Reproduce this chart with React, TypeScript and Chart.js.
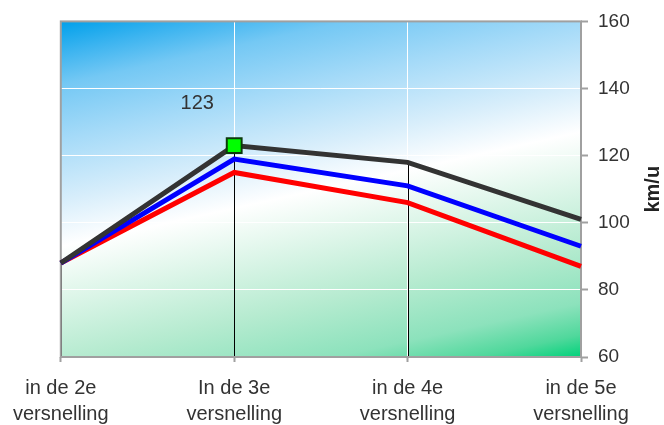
import React, { useEffect, useRef } from "react";
import { Chart, registerables } from "chart.js";

Chart.register(...registerables);

const categories: string[][] = [
  ["in de 2e", "versnelling"],
  ["In de 3e", "versnelling"],
  ["in de 4e", "versnelling"],
  ["in de 5e", "versnelling"],
];
const blackSeries = [88, 123, 118, 101];
const blueSeries = [88, 119, 111, 93];
const redSeries = [88, 115, 106, 87];
const yTicks = { min: 60, max: 160, step: 20 };
const axisTitle = "km/u";
const labelIndex = 1;

const FONT = "'Liberation Sans', Arial, sans-serif";
const TEXT = "#333333";

const bgPlugin = {
  id: "bg",
  beforeDraw(chart: any) {
    const { ctx, chartArea: a } = chart;
    const w = a.right - a.left;
    const h = a.bottom - a.top;
    let dx = 0.22, dy = 1;
    const n = Math.hypot(dx, dy);
    dx /= n; dy /= n;
    const half = (Math.abs(dx) * w + Math.abs(dy) * h) / 2;
    const cx = a.left + w / 2, cy = a.top + h / 2;
    const g = ctx.createLinearGradient(cx - dx * half, cy - dy * half, cx + dx * half, cy + dy * half);
    g.addColorStop(0, "#00a0ea");
    g.addColorStop(0.07, "#3cb4f0");
    g.addColorStop(0.14, "#74c8f4");
    g.addColorStop(0.26, "#a4daf8");
    g.addColorStop(0.4, "#d8eefb");
    g.addColorStop(0.5, "#ffffff");
    g.addColorStop(0.6, "#e2f7ec");
    g.addColorStop(0.75, "#b6ebd0");
    g.addColorStop(0.88, "#8ce2bc");
    g.addColorStop(0.95, "#50d89c");
    g.addColorStop(1, "#00d27a");
    ctx.save();
    ctx.fillStyle = g;
    ctx.fillRect(a.left, a.top, w, h);
    ctx.restore();
  },
  beforeDatasetsDraw(chart: any) {
    const { ctx, chartArea: a, scales } = chart;
    ctx.save();
    ctx.strokeStyle = "#000000";
    ctx.lineWidth = 1;
    for (let i = 0; i < categories.length; i++) {
      const v = Math.max(blackSeries[i], blueSeries[i], redSeries[i]);
      const x = Math.round(scales.x.getPixelForValue(i)) + 0.5;
      const y = scales.y.getPixelForValue(v);
      ctx.beginPath();
      ctx.moveTo(x, y);
      ctx.lineTo(x, a.bottom);
      ctx.stroke();
    }
    ctx.strokeStyle = "#a0a0a0";
    ctx.lineWidth = 2;
    ctx.strokeRect(a.left, a.top, a.right - a.left, a.bottom - a.top);
    ctx.restore();
  },
  afterDraw(chart: any) {
    const { ctx, scales } = chart;
    ctx.save();
    const px = scales.x.getPixelForValue(labelIndex);
    const py = scales.y.getPixelForValue(blackSeries[labelIndex]);
    ctx.font = `20px ${FONT}`;
    ctx.fillStyle = TEXT;
    ctx.textAlign = "center";
    ctx.textBaseline = "middle";
    ctx.fillText(String(blackSeries[labelIndex]), px - 37, py - 42);
    const a = chart.chartArea;
    ctx.translate(653, (a.top + a.bottom) / 2);
    ctx.rotate(-Math.PI / 2);
    ctx.font = `bold 20px ${FONT}`;
    ctx.fillStyle = "#222222";
    ctx.fillText(axisTitle, 0, 0);
    ctx.restore();
  },
};

export default function App() {
  const ref = useRef<HTMLCanvasElement | null>(null);
  useEffect(() => {
    document.body.style.margin = "0";
    document.body.style.overflow = "hidden";
    const chart = new Chart(ref.current as HTMLCanvasElement, {
      type: "line",
      data: {
        labels: categories,
        datasets: [
          {
            data: redSeries,
            borderColor: "#ff0000",
            borderWidth: 5,
            pointRadius: 0,
            tension: 0,
            order: 3,
          },
          {
            data: blueSeries,
            borderColor: "#0000ff",
            borderWidth: 5,
            pointRadius: 0,
            tension: 0,
            order: 2,
          },
          {
            data: blackSeries,
            borderColor: "#333333",
            borderWidth: 5,
            pointRadius: blackSeries.map((_, i) => (i === labelIndex ? 10.5 : 0)),
            pointStyle: "rect",
            pointBackgroundColor: "#00ff00",
            pointBorderColor: "#0c3a0c",
            pointBorderWidth: 2,
            tension: 0,
            order: 1,
          },
        ],
      },
      options: {
        responsive: false,
        animation: false,
        layout: { padding: { left: 60, top: 20, right: 0, bottom: 0 } },
        plugins: { legend: { display: false }, tooltip: { enabled: false } },
        scales: {
          x: {
            type: "category",
            offset: false,
            border: { display: false },
            grid: {
              color: "#ffffff",
              lineWidth: 1,
              tickLength: 5,
              tickColor: "#a0a0a0",
              tickWidth: 2,
            },
            ticks: {
              autoSkip: false,
              maxRotation: 0,
              minRotation: 0,
              padding: 13,
              color: TEXT,
              font: { family: FONT, size: 20, lineHeight: 1.3 },
            },
            afterFit(s: any) {
              s.height = 440 - 357;
            },
          },
          y: {
            position: "right",
            min: yTicks.min,
            max: yTicks.max,
            border: { display: false },
            grid: {
              color: "#ffffff",
              lineWidth: 1,
              tickLength: 7,
              tickColor: "#a0a0a0",
              tickWidth: 2,
            },
            ticks: {
              stepSize: yTicks.step,
              padding: 10,
              color: TEXT,
              font: { family: FONT, size: 19 },
            },
            afterFit(s: any) {
              s.width = 664 - 581;
            },
          },
        },
      },
      plugins: [bgPlugin],
    } as any);
    return () => chart.destroy();
  }, []);
  return (
    <div style={{ width: 664, height: 425, overflow: "hidden" }}>
      <canvas ref={ref} width={664} height={440} style={{ display: "block" }} />
    </div>
  );
}
